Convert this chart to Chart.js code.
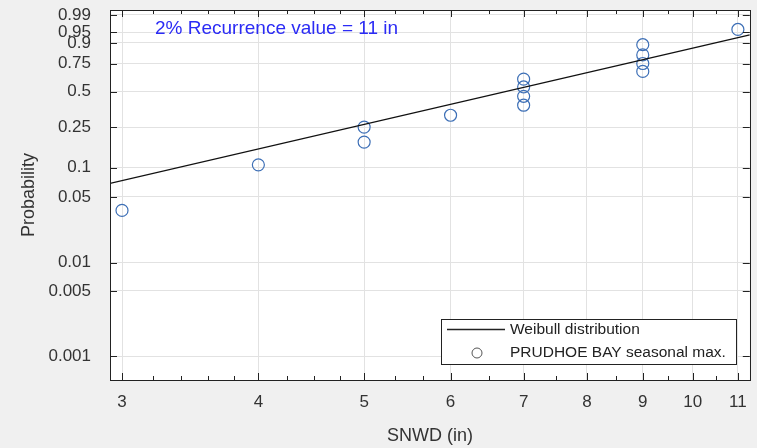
<!DOCTYPE html>
<html>
<head>
<meta charset="utf-8">
<script src="https://cdn.jsdelivr.net/npm/chart.js@4"></script>
<style>
  html, body { margin: 0; padding: 0; background: #f0f0f0; }
  #wrap { width: 757px; height: 448px; }
</style>
</head>
<body>
<div id="wrap"><canvas id="weibullChart" width="757" height="448"></canvas></div>
<script>

/* =========================
   DADOS
========================= */

const snowDepth   = [3, 4, 5, 5, 6, 7, 7, 7, 7, 9, 9, 9, 9, 11];
const probability = [0.036, 0.107, 0.18, 0.25, 0.32, 0.39, 0.46, 0.54, 0.61, 0.68, 0.75, 0.82, 0.89, 0.96];

const weibullX = [2.925, 11.28];
const weibullP = [0.069, 0.94];

const xTicks = [3, 4, 5, 6, 7, 8, 9, 10, 11];
const yTicks = [0.001, 0.005, 0.01, 0.05, 0.1, 0.25, 0.5, 0.75, 0.9, 0.95, 0.99];

const recurrenceText = "2% Recurrence value = 11 in";

/* escala de probabilidade Weibull */
const weib = p => Math.log(-Math.log(1 - p));

const pointData = snowDepth.map((x, i) => ({ x, y: weib(probability[i]) }));
const lineData = weibullX.map((x, i) => ({ x, y: weib(weibullP[i]) }));

const FONT = "'Liberation Sans', Arial, sans-serif";

/* =========================
   PLUGIN: FUNDO, MOLDURA, TICKS
========================= */

const framePlugin = {

    id: "frame",

    beforeDraw(chart) {
        const { ctx, chartArea: a } = chart;
        ctx.save();
        ctx.fillStyle = "#ffffff";
        ctx.fillRect(a.left, a.top, a.right - a.left, a.bottom - a.top);
        ctx.restore();
    },

    afterDraw(chart) {

        const { ctx, chartArea: a, scales } = chart;
        const xs = scales.x;
        const ys = scales.y;

        ctx.save();
        ctx.strokeStyle = "#222";
        ctx.lineWidth = 1;

        // ticks internos
        ctx.beginPath();
        xTicks.forEach(v => {
            const px = Math.round(xs.getPixelForValue(v)) + 0.5;
            ctx.moveTo(px, a.bottom); ctx.lineTo(px, a.bottom - 7);
            ctx.moveTo(px, a.top);    ctx.lineTo(px, a.top + 7);
        });

        const minor = [3.2, 3.4, 3.6, 3.8, 4.25, 4.5, 4.75, 5.333, 5.667, 6.5, 7.5, 8.5, 9.5, 10.5];
        minor.forEach(v => {
            const px = Math.round(xs.getPixelForValue(v)) + 0.5;
            ctx.moveTo(px, a.bottom); ctx.lineTo(px, a.bottom - 4);
            ctx.moveTo(px, a.top);    ctx.lineTo(px, a.top + 4);
        });

        yTicks.forEach(p => {
            const py = Math.round(ys.getPixelForValue(weib(p))) + 0.5;
            ctx.moveTo(a.left, py);  ctx.lineTo(a.left + 7, py);
            ctx.moveTo(a.right, py); ctx.lineTo(a.right - 7, py);
        });
        ctx.stroke();

        // moldura
        ctx.strokeRect(Math.round(a.left) + 0.5, Math.round(a.top) + 0.5,
            Math.round(a.right - a.left), Math.round(a.bottom - a.top));

        // texto de recorrência
        ctx.fillStyle = "#2b2bf5";
        ctx.font = "19px " + FONT;
        ctx.textBaseline = "middle";
        ctx.textAlign = "left";
        ctx.fillText(recurrenceText, 155, 29);

        // legenda
        const lx = 441, ly = 319, lw = 295, lh = 45;
        ctx.fillStyle = "#ffffff";
        ctx.fillRect(lx, ly, lw, lh);
        ctx.strokeStyle = "#222";
        ctx.strokeRect(lx + 0.5, ly + 0.5, lw, lh);

        ctx.beginPath();
        ctx.lineWidth = 1.3;
        ctx.moveTo(447, 329.5);
        ctx.lineTo(505, 329.5);
        ctx.stroke();

        ctx.beginPath();
        ctx.lineWidth = 1;
        ctx.strokeStyle = "#555";
        ctx.arc(477, 353, 5, 0, Math.PI * 2);
        ctx.stroke();

        ctx.fillStyle = "#222";
        ctx.font = "15.5px " + FONT;
        ctx.fillText(chart.data.datasets[0].label, 510, 330);
        ctx.fillText(chart.data.datasets[1].label, 510, 353);

        ctx.restore();

    }

};

/* =========================
   GRÁFICO
========================= */

const ctx = document.getElementById("weibullChart").getContext("2d");

new Chart(ctx, {

    type: "scatter",

    data: {
        datasets: [
            {
                label: "Weibull distribution",
                data: lineData,
                showLine: true,
                borderColor: "#111",
                borderWidth: 1.4,
                pointRadius: 0,
                order: 1
            },
            {
                label: "PRUDHOE BAY seasonal max.",
                data: pointData,
                showLine: false,
                pointRadius: 6,
                pointBorderWidth: 1.2,
                pointBorderColor: "#3d6fb6",
                pointBackgroundColor: "rgba(0,0,0,0)",
                order: 2
            }
        ]
    },

    plugins: [framePlugin],

    options: {
        responsive: false,
        animation: false,
        layout: { padding: { top: 10, right: 5, left: 0, bottom: 0 } },
        plugins: {
            legend: { display: false },
            tooltip: { enabled: false }
        },
        scales: {
            x: {
                type: "logarithmic",
                min: 2.925,
                max: 11.28,
                afterBuildTicks: scale => {
                    scale.ticks = xTicks.map(v => ({ value: v }));
                },
                afterFit: scale => {
                    scale.height = 68;
                    scale.paddingLeft = 0;
                    scale.paddingRight = 0;
                },
                ticks: {
                    autoSkip: false,
                    maxRotation: 0,
                    padding: 12,
                    color: "#333",
                    font: { family: FONT, size: 17 },
                    callback: v => String(v)
                },
                grid: { color: "#e2e2e2", drawTicks: false },
                border: { display: false },
                title: {
                    display: true,
                    text: "SNWD (in)",
                    color: "#333",
                    font: { family: FONT, size: 18 },
                    padding: { top: 0, bottom: 1 }
                }
            },
            y: {
                type: "linear",
                min: -7.50,
                max: 1.65,
                afterBuildTicks: scale => {
                    scale.ticks = yTicks.map(p => ({ value: weib(p) }));
                },
                afterFit: scale => {
                    scale.width = 110;
                    scale.paddingTop = 0;
                    scale.paddingBottom = 0;
                },
                ticks: {
                    autoSkip: false,
                    padding: 19,
                    color: "#333",
                    font: { family: FONT, size: 17 },
                    callback: (v, i) => String(yTicks[i])
                },
                grid: { color: "#e2e2e2", drawTicks: false },
                border: { display: false },
                title: {
                    display: true,
                    text: "Probability",
                    color: "#333",
                    font: { family: FONT, size: 18 },
                    padding: { top: 18, bottom: 0 }
                }
            }
        }
    }

});

</script>
</body>
</html>
